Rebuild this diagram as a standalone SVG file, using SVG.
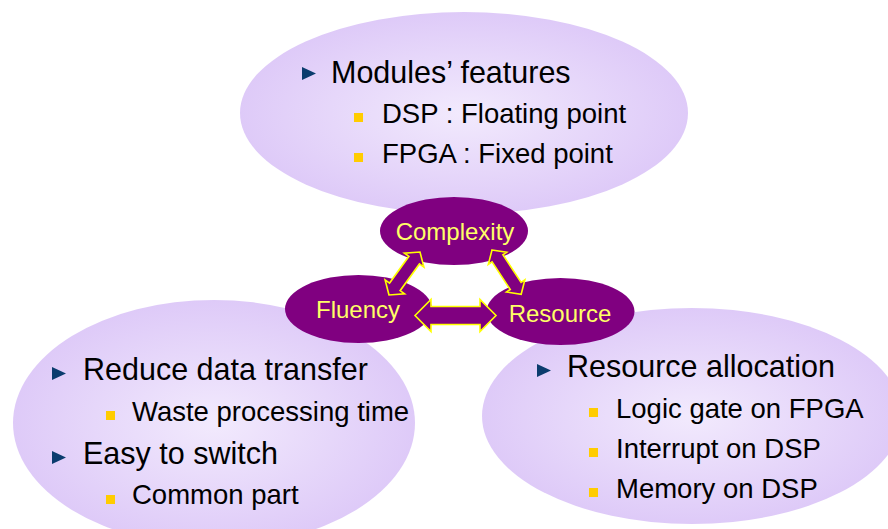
<svg xmlns="http://www.w3.org/2000/svg" width="888" height="529" viewBox="0 0 888 529">
  <defs>
    <radialGradient id="lav" cx="50%" cy="50%" r="50%">
      <stop offset="0" stop-color="#F2EAFD"/>
      <stop offset="1" stop-color="#DECAF8"/>
    </radialGradient>
    <path id="tri" d="M0,0 L14,6.5 L0,13 Z"/>
  </defs>
  <style>
    .cloud { fill: url(#lav); }
    .node { fill: #800080; }
    .nlabel { font-family: "Liberation Sans", Arial, sans-serif; font-size: 24px; fill: #FFFF66; text-anchor: middle; }
    .h1 { font-family: "Liberation Sans", Arial, sans-serif; font-size: 30.5px; fill: #000; }
    .h2 { font-family: "Liberation Sans", Arial, sans-serif; font-size: 27.5px; fill: #000; }
    .b1 { fill: #0B3C6E; }
    .b2 { fill: #FFCC00; }
    .arrow { fill: #800080; stroke: #FFFF00; stroke-width: 1.6; stroke-linejoin: miter; }
  </style>

  <rect width="888" height="529" fill="#FFFFFF"/>

  <!-- detail clouds -->
  <g id="cloud-top">
    <ellipse class="cloud" cx="464" cy="113" rx="224" ry="101"/>
    <use href="#tri" class="b1" x="302" y="67"/>
    <text class="h1" x="331" y="83">Modules’ features</text>
    <rect class="b2" x="354" y="113" width="9" height="9"/>
    <text class="h2" x="382" y="123">DSP : Floating point</text>
    <rect class="b2" x="354" y="153" width="9" height="9"/>
    <text class="h2" x="382" y="163">FPGA : Fixed point</text>
  </g>

  <g id="cloud-left">
    <ellipse class="cloud" cx="214" cy="423" rx="201" ry="123"/>
    <use href="#tri" class="b1" x="52" y="367"/>
    <text class="h1" x="83" y="380">Reduce data transfer</text>
    <rect class="b2" x="106" y="411" width="9" height="9"/>
    <text class="h2" x="132" y="421">Waste processing time</text>
    <use href="#tri" class="b1" x="52" y="451"/>
    <text class="h1" x="83" y="464">Easy to switch</text>
    <rect class="b2" x="106" y="495" width="9" height="9"/>
    <text class="h2" x="132" y="504">Common part</text>
  </g>

  <g id="cloud-right">
    <ellipse class="cloud" cx="692" cy="416" rx="210" ry="108"/>
    <use href="#tri" class="b1" x="537" y="364"/>
    <text class="h1" x="567" y="377">Resource allocation</text>
    <rect class="b2" x="589" y="408" width="9" height="9"/>
    <text class="h2" x="616" y="418">Logic gate on FPGA</text>
    <rect class="b2" x="589" y="448" width="9" height="9"/>
    <text class="h2" x="616" y="458">Interrupt on DSP</text>
    <rect class="b2" x="589" y="488" width="9" height="9"/>
    <text class="h2" x="616" y="498">Memory on DSP</text>
  </g>

  <!-- central triad -->
  <g id="node-complexity">
    <ellipse class="node" cx="454" cy="231" rx="74" ry="34"/>
    <text class="nlabel" x="455" y="240">Complexity</text>
  </g>
  <g id="node-fluency">
    <ellipse class="node" cx="358.5" cy="309" rx="73.5" ry="34"/>
    <text class="nlabel" x="358" y="318">Fluency</text>
  </g>
  <g id="node-resource">
    <ellipse class="node" cx="560.5" cy="311.5" rx="74" ry="33.5"/>
    <text class="nlabel" x="560" y="322">Resource</text>
  </g>

  <!-- two-way block arrows between the nodes -->
  <g id="connectors">
    <path class="arrow" transform="translate(389,295) rotate(-54.2)"
          d="M0,0 L10,-12 L10,-6.5 L43,-6.5 L43,-12 L53,0 L43,12 L43,6.5 L10,6.5 L10,12 Z"/>
    <path class="arrow" transform="translate(492,250) rotate(56.6)"
          d="M0,0 L10,-11 L10,-6.5 L43,-6.5 L43,-11 L53,0 L43,11 L43,6.5 L10,6.5 L10,11 Z"/>
    <path class="arrow" transform="translate(415,315.5)"
          d="M0,0 L16,-16 L16,-9 L65,-9 L65,-16 L81,0 L65,16 L65,9 L16,9 L16,16 Z"/>
  </g>
</svg>
